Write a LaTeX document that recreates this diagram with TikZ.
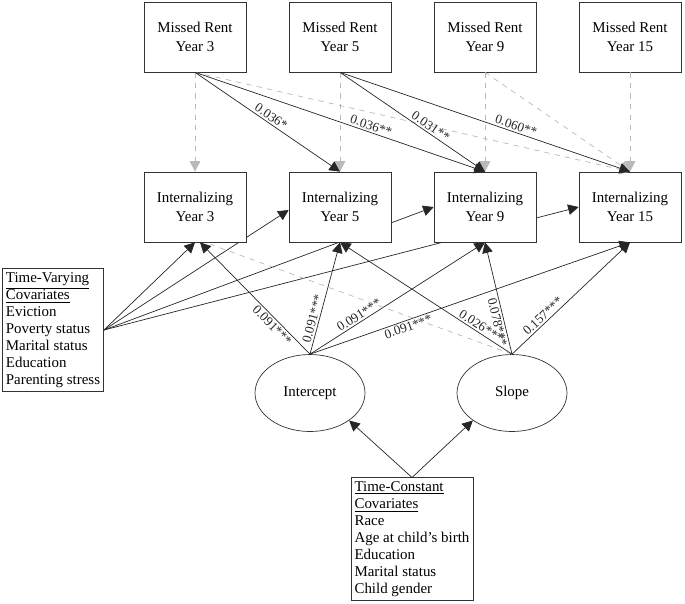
\documentclass[tikz,border=0pt]{standalone}
\usepackage{fontspec}
\setmainfont{Liberation Serif}
\usetikzlibrary{arrows.meta, shapes.geometric, backgrounds}
\tikzset{
  box/.style={rectangle, draw=black!80, fill=white, minimum width=2.04cm, minimum height=1.4cm, align=center, font=\fontsize{8.5}{10.5}\selectfont},
  cov/.style={rectangle, draw=black!80, fill=white, align=left, inner sep=2pt, font=\fontsize{8.5}{9.7}\selectfont},
  lat/.style={ellipse, draw=black!80, fill=white, minimum width=2.2cm, minimum height=1.54cm, font=\fontsize{8.5}{10}\selectfont},
  sig/.style={-{Triangle[length=6pt,width=6pt]}, black!85},
  ns/.style={-{Triangle[length=6pt,width=6pt]}, gray!55, dashed},
  lab/.style={font=\fontsize{7.5}{9}\selectfont, sloped, above, inner sep=1pt}
}
\begin{document}
\begin{tikzpicture}[x=0.02cm, y=-0.02cm]
      \useasboundingbox (0,0) rectangle (685,603);
      \node[box](M3) at (195,37){Missed Rent\\Year 3};
      \node[box](M5) at (340,37){Missed Rent\\Year 5};
      \node[box](M9) at (485,37){Missed Rent\\Year 9};
      \node[box](M15) at (630,37){Missed Rent\\Year 15};
      \node[box](I3) at (195,207){Internalizing\\Year 3};
      \node[box](I5) at (340,207){Internalizing\\Year 5};
      \node[box](I9) at (485,207){Internalizing\\Year 9};
      \node[box](I15) at (630,207){Internalizing\\Year 15};
      \node[lat](Int) at (310,393){Intercept};
      \node[lat](Slp) at (512,393){Slope};
      \node[cov](TV) at (53,330){\underline{Time-Varying}\\\underline{Covariates}\\Eviction\\Poverty status\\Marital status\\Education\\Parenting stress};
      \node[cov](TC) at (412,539){\underline{Time-Constant}\\\underline{Covariates}\\Race\\Age at child's birth\\Education\\Marital status\\Child gender};

      \draw[ns] (M3) -- (I3);
      \draw[ns] (M5) -- (I5);
      \draw[ns] (M9) -- (I9);
      \draw[ns] (M15) -- (I15);
      \draw[ns] (M3.south) -- (I15.north);
      \draw[ns] (M9.south) -- (I15.north);
      \draw[sig] (M3.south) -- node[lab]{0.036*} (I5.north);
      \draw[sig] (M3.south) -- node[lab, pos=0.6]{0.036**} (I9.north);
      \draw[sig] (M5.south) -- node[lab, pos=0.6]{0.031**} (I9.north);
      \draw[sig] (M5.south) -- node[lab, pos=0.6]{0.060**} (I15.north);

      \begin{pgfonlayer}{background}
        \draw[sig] (TV.east) -- (I3.south);
        \draw[sig] (TV.east) -- ([yshift=-0.06cm]I5.west);
        \draw[sig] (TV.east) -- (I9.west);
        \draw[sig] (TV.east) -- (I15.west);
      \end{pgfonlayer}

      \draw[sig] (Int.north) -- node[lab, below, pos=0.3]{0.091***} ([xshift=0.1cm]I3.south);
      \draw[sig] (Int.north) -- node[lab, pos=0.3]{0.091***} (I5.south);
      \draw[sig] (Int.north) -- node[lab, pos=0.3]{0.091***} (I9.south);
      \draw[sig] (Int.north) -- node[lab, below, pos=0.3]{0.091***} (I15.south);
      \draw[gray!55, dashed] (Slp.north) -- ([xshift=0.2cm]I3.south);
      \draw[sig] (Slp.north) -- node[lab, pos=0.2]{0.026***} (I5.south);
      \draw[sig] (Slp.north) -- node[lab, below, pos=0.3]{0.078***} (I9.south);
      \draw[sig] (Slp.north) -- node[lab, pos=0.3]{0.157***} (I15.south);

      \draw[sig] (TC.north) -- (Int.south east);
      \draw[sig] (TC.north) -- (Slp.south west);
    \end{tikzpicture}
\end{document}
